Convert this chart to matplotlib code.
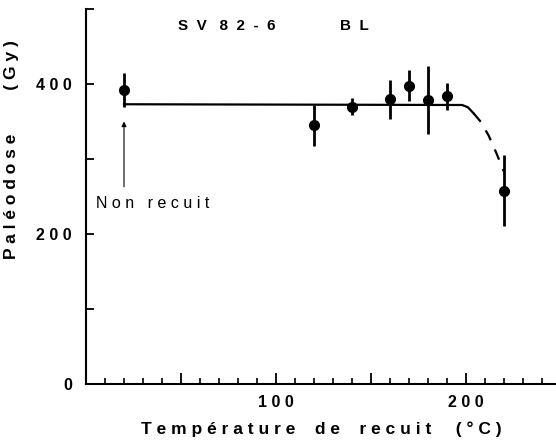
import numpy as np
import matplotlib.pyplot as plt

# Données
temp = [20, 120, 140, 160, 170, 180, 190, 220]
dose = [392, 345, 370, 380, 398, 379, 384, 258]
err = [23, 27, 11, 26, 21, 45, 18, 47]

# courbe d'ajustement : plateau puis chute (tirets)
fit_x = [20, 198, 201, 204]
fit_y = [373, 372, 369, 361]
drop_x = [204, 208, 212, 216, 220]
drop_y = [361, 349, 331, 308, 283]

xticks_major = [50, 100, 150, 200]
xtick_labels = ['', '1 0 0', '', '2 0 0']
xticks_minor = [10, 20, 30, 40, 60, 70, 80, 90, 110, 120, 130, 140,
                160, 170, 180, 190, 210, 220, 230, 240]
yticks = [0, 100, 200, 300, 400, 500]
ytick_labels = ['0', '', '2 0 0', '', '4 0 0', '']

font = 'Liberation Sans'

fig = plt.figure(figsize=(5.56, 4.46), dpi=100)
ax = fig.add_axes([86/556, 62/446, 470/556, 375/446])

ax.errorbar(temp, dose, yerr=err, fmt='o', color='k', ms=7,
            elinewidth=2.0, capsize=0)
ax.plot(fit_x, fit_y, color='k', lw=1.6)
ax.plot(drop_x, drop_y, color='k', lw=1.6, dashes=(5, 4.5))

# fleche "Non recuit"
ax.annotate('', xy=(20, 350), xytext=(20, 263),
            arrowprops=dict(arrowstyle='-|>', lw=0.8, color='k',
                            mutation_scale=7, shrinkA=0, shrinkB=0))
ax.text(35, 241, 'N o n   r e c u i t', ha='center', va='center',
        fontsize=11.5, family=font)

# titre dans le cadre
ax.text(0.30, 0.955, 'S  V   8  2  -  6', transform=ax.transAxes,
        ha='center', va='center', fontsize=11, family=font,
        fontweight='bold')
ax.text(0.57, 0.955, 'B  L', transform=ax.transAxes,
        ha='center', va='center', fontsize=11, family=font,
        fontweight='bold')

ax.set_xlim(0, 247.4)
ax.set_ylim(0, 500)

ax.spines['top'].set_visible(False)
ax.spines['right'].set_visible(False)
ax.spines['left'].set_linewidth(1.5)
ax.spines['bottom'].set_linewidth(1.5)

ax.set_xticks(xticks_major)
ax.set_xticklabels(xtick_labels)
ax.set_xticks(xticks_minor, minor=True)
ax.tick_params(axis='x', which='major', direction='in', length=8, width=1.3,
               pad=8)
ax.tick_params(axis='x', which='minor', direction='in', length=4.5, width=1.2)
ax.set_yticks(yticks)
ax.set_yticklabels(ytick_labels)
ax.tick_params(axis='y', direction='in', length=6, width=1.3, pad=10)

for lab in ax.get_xticklabels() + ax.get_yticklabels():
    lab.set_family(font)
    lab.set_fontweight('bold')
    lab.set_fontsize(11.5)

ax.set_xlabel('T e m p é r a t u r e    d e    r e c u i t     ( ° C )',
              family=font, fontweight='bold', fontsize=12.5, labelpad=8)
ax.set_ylabel('P a l é o d o s e         ( G y )',
              family=font, fontweight='bold', fontsize=12.5)
ax.yaxis.set_label_coords(-0.142, 0.625)

fig.savefig('out.png', dpi=100)
